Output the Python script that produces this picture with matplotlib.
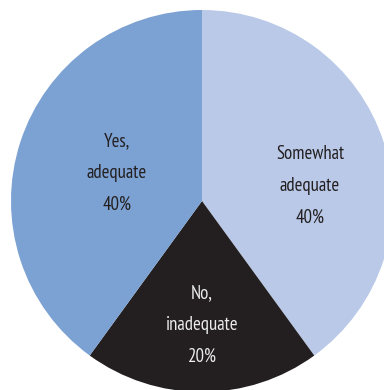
import matplotlib
matplotlib.use("Agg")
import matplotlib.pyplot as plt

# Responses, clockwise from 12 o'clock
labels = ["Somewhat\nadequate", "No,\ninadequate", "Yes,\nadequate"]
shares = [40, 20, 40]
colors = ["#bac9e7", "#231f20", "#7ca1d3"]
text_colors = ["#231f20", "#ececec", "#231f20"]

# label anchors as (dx, dy) from the pie centre, in pixels
label_offsets = [(108, 15), (0, -124), (-85, 28)]

plt.rcParams["font.family"] = ["PT Sans Narrow", "Open Sans Condensed", "DejaVu Sans"]

fig = plt.figure(figsize=(3.84, 3.90), dpi=100)
ax = fig.add_axes([0, 0, 1, 1])
ax.set_aspect("equal")
ax.axis("off")

cx, cy, r = 202, 189, 191
ax.pie(shares, colors=colors, startangle=90, counterclock=False,
       center=(cx, cy), radius=r, frame=False)
ax.set_xlim(0, 384)
ax.set_ylim(0, 390)

for lab, val, (dx, dy), tc in zip(labels, shares, label_offsets, text_colors):
    ax.text(cx + dx, cy + dy, f"{lab}\n{val}%", ha="center", va="center",
            color=tc, fontsize=13.5, linespacing=2.0)

fig.savefig("out.png", dpi=100)
